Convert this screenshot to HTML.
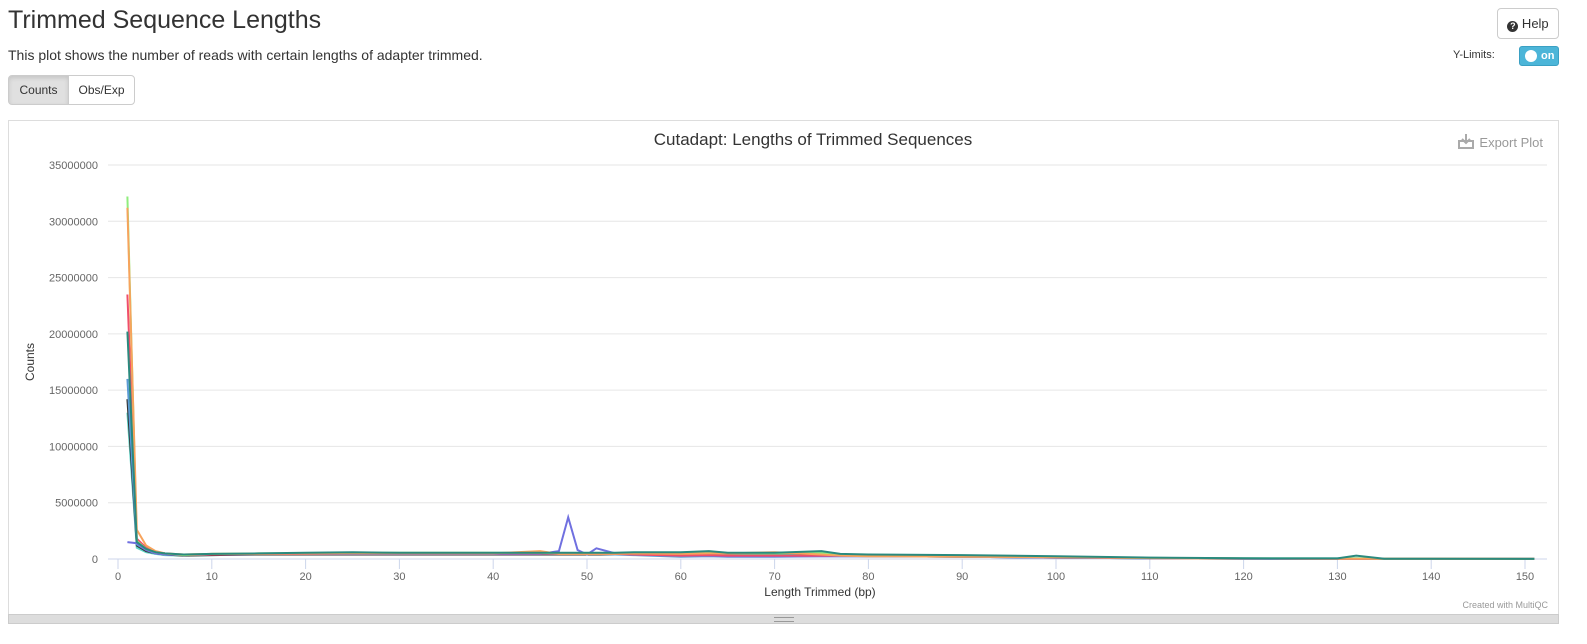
<!DOCTYPE html>
<html><head><meta charset="utf-8">
<style>
body{margin:0;width:1587px;height:644px;background:#fff;font-family:"Liberation Sans",sans-serif;color:#333;position:relative;overflow:hidden}
.abs{position:absolute}
h1{position:absolute;left:8px;top:6px;margin:0;font-size:25px;font-weight:500;color:#333}
.btn{position:absolute;border:1px solid #ccc;border-radius:4px;font-size:12px;background:#fff;box-sizing:border-box;text-align:center}
</style></head><body>
<h1>Trimmed Sequence Lengths</h1>
<div class="abs" style="left:8px;top:47px;font-size:14px">This plot shows the number of reads with certain lengths of adapter trimmed.</div>
<div class="btn" style="left:1497px;top:8px;width:62px;height:31px;line-height:29px;font-size:13px"><span style="display:inline-block;width:11px;height:11px;border-radius:50%;background:#333;color:#fff;font-size:9px;line-height:11px;font-weight:bold;vertical-align:-1px">?</span> Help</div>
<div class="abs" style="left:1453px;top:49px;font-size:11px">Y-Limits:</div>
<div class="abs" style="left:1519px;top:46px;width:40px;height:20px;background:#4cb5d8;border-radius:3px;border:1px solid #3aa0c3;box-sizing:border-box"><div style="position:absolute;left:5px;top:3px;width:12px;height:12px;border-radius:50%;background:#fff"></div><span style="position:absolute;left:21px;top:3px;color:#fff;font-size:11px;font-weight:bold">on</span></div>
<div class="btn" style="left:8px;top:75px;width:61px;height:30px;line-height:28px;background:#e0e0e0;border-radius:4px 0 0 4px;box-shadow:inset 0 2px 4px rgba(0,0,0,.12)">Counts</div>
<div class="btn" style="left:68px;top:75px;width:67px;height:30px;line-height:28px;border-radius:0 4px 4px 0">Obs/Exp</div>
<div class="abs" style="left:8px;top:120px;width:1551px;height:495px;border:1px solid #ddd;box-sizing:border-box"></div>
<div class="abs" style="left:8px;top:614px;width:1551px;height:10px;background:#ddd;border:1px solid #ccc;box-sizing:border-box"><div style="margin:2px auto;width:20px;height:3px;border-top:1px solid #999;border-bottom:1px solid #999"></div></div>
<svg class="abs" style="left:0;top:0" width="1587" height="644" id="chart">
<text x="813" y="145" text-anchor="middle" font-size="17" fill="#333" font-family="Liberation Sans, sans-serif">Cutadapt: Lengths of Trimmed Sequences</text>
<g><text x="1543" y="147" text-anchor="end" font-size="13" fill="#999" font-family="Liberation Sans, sans-serif">Export Plot</text><path d="M1459 141h14v7h-14z M1466 134v9 M1462 139l4 4 4-4" stroke="#aaa" stroke-width="2" fill="none"/></g>
<text x="820" y="596" text-anchor="middle" font-size="12" fill="#333" font-family="Liberation Sans, sans-serif">Length Trimmed (bp)</text>
<text x="34" y="362" text-anchor="middle" font-size="12" fill="#333" transform="rotate(-90 34 362)" font-family="Liberation Sans, sans-serif">Counts</text>
<text x="1548" y="608" text-anchor="end" font-size="9" fill="#999" font-family="Liberation Sans, sans-serif">Created with MultiQC</text>
<g id="grid"></g><g id="series"></g>
</svg>
<script>
const xTicks=[0,10,20,30,40,50,60,70,80,90,100,110,120,130,140,150];
const yTicks=[0,5000000,10000000,15000000,20000000,25000000,30000000,35000000];
const xs=[1,2,3,4,5,7,10,15,20,25,30,40,45,47,48,49,50,51,53,55,60,63,65,70,75,77,80,90,100,110,120,130,132,135,140,151];
const sGreen =[32.2,1.6,0.9,0.6,0.5,0.35,0.45,0.5,0.5,0.55,0.55,0.55,0.55,0.5,0.5,0.5,0.5,0.5,0.5,0.5,0.5,0.55,0.5,0.5,0.55,0.4,0.35,0.3,0.2,0.1,0.05,0.04,0.05,0.02,0.02,0.01];
const sOrange=[31.2,2.6,1.2,0.7,0.5,0.4,0.45,0.45,0.5,0.5,0.5,0.5,0.7,0.45,0.45,0.45,0.45,0.45,0.45,0.5,0.45,0.5,0.5,0.6,0.4,0.3,0.25,0.2,0.15,0.08,0.04,0.03,0.03,0.02,0.02,0.01];
const sRed   =[23.5,1.8,1.0,0.6,0.5,0.35,0.4,0.45,0.45,0.5,0.5,0.5,0.5,0.45,0.45,0.45,0.45,0.45,0.45,0.4,0.3,0.35,0.3,0.3,0.3,0.3,0.3,0.25,0.15,0.08,0.04,0.03,0.03,0.02,0.02,0.01];
const sTeal  =[20.2,1.5,0.9,0.6,0.5,0.4,0.45,0.5,0.55,0.6,0.55,0.55,0.55,0.55,0.55,0.55,0.55,0.55,0.55,0.6,0.6,0.7,0.55,0.55,0.7,0.45,0.4,0.35,0.25,0.12,0.06,0.05,0.3,0.03,0.02,0.01];
const sBlue  =[16.0,1.3,0.8,0.5,0.45,0.35,0.4,0.45,0.45,0.45,0.45,0.45,0.45,0.45,0.45,0.45,0.45,0.45,0.4,0.35,0.2,0.25,0.2,0.2,0.25,0.25,0.25,0.2,0.12,0.06,0.03,0.02,0.02,0.01,0.01,0.01];
const sBlack =[14.2,1.2,0.7,0.5,0.4,0.3,0.35,0.4,0.4,0.4,0.4,0.4,0.4,0.4,0.4,0.4,0.4,0.4,0.4,0.4,0.35,0.35,0.3,0.3,0.3,0.3,0.25,0.2,0.12,0.06,0.03,0.02,0.02,0.01,0.01,0.01];
const sCyan  =[13.0,1.0,0.6,0.45,0.35,0.3,0.35,0.4,0.4,0.4,0.4,0.4,0.4,0.4,0.4,0.4,0.4,0.4,0.4,0.4,0.4,0.4,0.4,0.4,0.4,0.35,0.3,0.25,0.2,0.1,0.05,0.05,0.06,0.03,0.02,0.01];
const sPurple=[1.5,1.4,0.8,0.5,0.4,0.35,0.4,0.45,0.45,0.45,0.45,0.45,0.45,0.7,3.7,0.8,0.4,0.95,0.5,0.4,0.3,0.3,0.25,0.25,0.25,0.25,0.25,0.2,0.12,0.06,0.03,0.02,0.02,0.01,0.01,0.01];
const seriesList=[[sCyan,'#5ed6c8'],[sBlack,'#333'],[sBlue,'#5b9bd5'],[sPurple,'#7070e0'],[sRed,'#f04e6a'],[sGreen,'#90ed7d'],[sOrange,'#f7a35c'],[sTeal,'#2a8a7e']];
const X=v=>118+v*9.38, Y=v=>559-v*11.257e-6;
const NS='http://www.w3.org/2000/svg';
const grid=document.getElementById('grid'), ser=document.getElementById('series');
function mk(tag,attrs,parent){const e=document.createElementNS(NS,tag);for(const k in attrs)e.setAttribute(k,attrs[k]);parent.appendChild(e);return e;}
yTicks.forEach(t=>{
 const l=mk('line',{x1:108,x2:1547,y1:Y(t),y2:Y(t),stroke:t?'#e6e6e6':'#ccd6eb'},grid);
 
 
 const tx=mk('text',{x:98,y:Y(t)+4,'text-anchor':'end','font-size':11,fill:'#666','font-family':'Liberation Sans, sans-serif'},grid);
 tx.textContent=t;
 
 
});
xTicks.forEach(t=>{
 const l=mk('line',{x1:X(t),x2:X(t),y1:559,y2:569,stroke:'#ccd6eb'},grid);
 
 
 const tx=mk('text',{x:X(t),y:580,'text-anchor':'middle','font-size':11,fill:'#666','font-family':'Liberation Sans, sans-serif'},grid);
 tx.textContent=t;
 
 
});
seriesList.forEach(([vals,c])=>{
 const d=vals.map((v,i)=>(i?'L':'M')+X(xs[i]).toFixed(1)+' '+Y(v*1e6).toFixed(1)).join(' ');
 const p=mk('path',{d:d,stroke:c,'stroke-width':2,fill:'none'},ser);
 
 
});
</script>
</body></html>
